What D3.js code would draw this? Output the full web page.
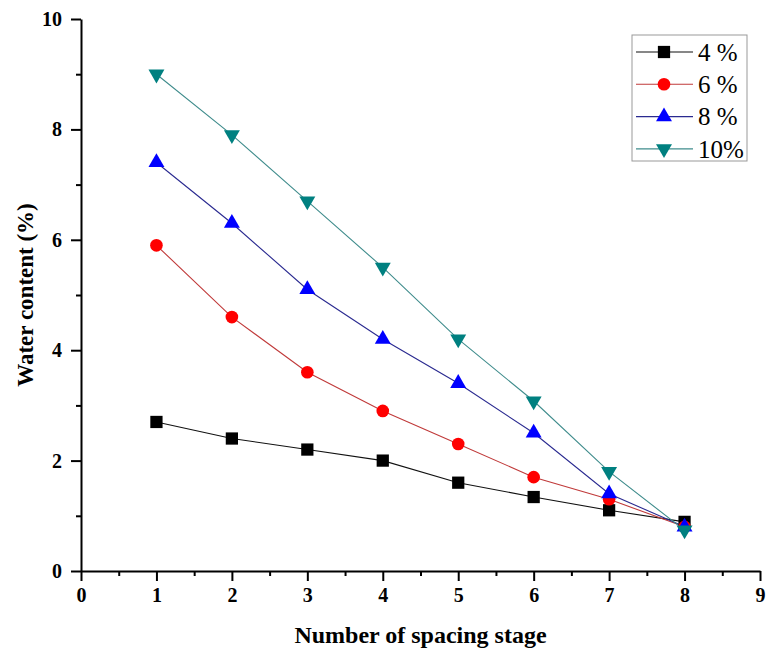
<!DOCTYPE html>
<html>
<head>
<meta charset="utf-8">
<script src="https://cdn.jsdelivr.net/npm/d3@7"></script>
<style>
  body { margin: 0; background: #fff; }
  svg { display: block; }
</style>
</head>
<body>
<div id="chart"></div>
<script>
// values
const stages = [1, 2, 3, 4, 5, 6, 7, 8]
const water4 = [2.7, 2.4, 2.2, 2.0, 1.6, 1.34, 1.1, 0.89]
const water6 = [5.9, 4.6, 3.6, 2.9, 2.3, 1.7, 1.3, 0.8]
const water8 = [7.4, 6.3, 5.1, 4.2, 3.4, 2.5, 1.4, 0.8]
const water10 = [9.0, 7.9, 6.7, 5.5, 4.2, 3.08, 1.8, 0.74]
const seriesNames = ["4 %", "6 %", "8 %", "10%"]
const xTicks = [0, 1, 2, 3, 4, 5, 6, 7, 8, 9]
const yTicks = [0, 2, 4, 6, 8, 10]

const W = 767, H = 655
const margin = {top: 19, right: 7, bottom: 84, left: 81}

const series = [
  {name: seriesNames[0], values: water4, color: "#000000", line: "#111111", symbol: d3.symbolSquare, size: 150, rot: 0},
  {name: seriesNames[1], values: water6, color: "#ff0000", line: "#c03a3a", symbol: d3.symbolCircle, size: 125, rot: 0},
  {name: seriesNames[2], values: water8, color: "#0000ff", line: "#2a2a90", symbol: d3.symbolTriangle, size: 110, rot: 0},
  {name: seriesNames[3], values: water10, color: "#008080", line: "#3f8c8c", symbol: d3.symbolTriangle, size: 110, rot: 180},
]

const svg = d3.select("#chart").append("svg")
  .attr("width", W)
  .attr("height", H)

const x = d3.scaleLinear()
  .domain([0, 9])
  .range([margin.left, W - margin.right])

const y = d3.scaleLinear()
  .domain([0, 10])
  .range([H - margin.bottom, margin.top])

const font = "'Liberation Serif', 'Times New Roman', serif"

// minor ticks first, then the major axes on top
svg.append("g")
  .attr("transform", `translate(0,${y(0)})`)
  .call(d3.axisBottom(x).tickValues(d3.range(0.5, 9, 1)).tickSize(5).tickFormat(""))
  .call(g => g.select(".domain").remove())
  .call(g => g.selectAll("line").attr("stroke-width", 2))

svg.append("g")
  .attr("transform", `translate(${x(0)},0)`)
  .call(d3.axisLeft(y).tickValues([1, 3, 5, 7, 9]).tickSize(5).tickFormat(""))
  .call(g => g.select(".domain").remove())
  .call(g => g.selectAll("line").attr("stroke-width", 2))

const xAxis = svg.append("g")
  .attr("transform", `translate(0,${y(0)})`)
  .call(d3.axisBottom(x).tickValues(xTicks).tickSize(10).tickPadding(7).tickSizeOuter(0))
xAxis.select(".domain").attr("stroke-width", 2)
xAxis.selectAll("line").attr("stroke-width", 2)
xAxis.selectAll("text")
  .attr("font-family", font)
  .attr("font-weight", "bold")
  .attr("font-size", 20)
  .attr("fill", "#000")

const yAxis = svg.append("g")
  .attr("transform", `translate(${x(0)},0)`)
  .call(d3.axisLeft(y).tickValues(yTicks).tickSize(10).tickPadding(9).tickSizeOuter(0))
yAxis.select(".domain").attr("stroke-width", 2)
yAxis.selectAll("line").attr("stroke-width", 2)
yAxis.selectAll("text")
  .attr("font-family", font)
  .attr("font-weight", "bold")
  .attr("font-size", 20)
  .attr("fill", "#000")

// axis titles
svg.append("text")
  .attr("x", (x(0) + x(9)) / 2)
  .attr("y", 643)
  .attr("text-anchor", "middle")
  .attr("font-family", font)
  .attr("font-weight", "bold")
  .attr("font-size", 24)
  .text("Number of spacing stage")

svg.append("text")
  .attr("transform", `translate(33,${y(5)}) rotate(-90)`)
  .attr("text-anchor", "middle")
  .attr("font-family", font)
  .attr("font-weight", "bold")
  .attr("font-size", 23)
  .text("Water content (%)")

// lines and markers
const line = d3.line()
  .x((d, i) => x(stages[i]))
  .y(d => y(d))

const plot = svg.append("g")

for (const s of series) {
  plot.append("path")
    .datum(s.values)
    .attr("fill", "none")
    .attr("stroke", s.line)
    .attr("stroke-width", 1.1)
    .attr("d", line)
}

for (const s of series) {
  plot.append("g")
    .selectAll("path")
    .data(s.values)
    .join("path")
      .attr("transform", (d, i) => `translate(${x(stages[i])},${y(d)}) rotate(${s.rot})`)
      .attr("d", d3.symbol(s.symbol, s.size))
      .attr("fill", s.color)
}

// legend
const legend = svg.append("g")
  .attr("transform", "translate(632,35)")

legend.append("rect")
  .attr("width", 115)
  .attr("height", 126)
  .attr("fill", "#fff")
  .attr("stroke", "#999")
  .attr("stroke-width", 1)

const rows = legend.selectAll("g.row")
  .data(series)
  .join("g")
    .attr("class", "row")
    .attr("transform", (d, i) => `translate(0,${17 + i * 32.3})`)

rows.append("line")
  .attr("x1", 4)
  .attr("x2", 61)
  .attr("stroke", d => d.line)
  .attr("stroke-width", 1.1)

rows.append("path")
  .attr("transform", d => `translate(32,0) rotate(${d.rot})`)
  .attr("d", d => d3.symbol(d.symbol, d.size)())
  .attr("fill", d => d.color)

rows.append("text")
  .attr("x", 66)
  .attr("dy", "0.35em")
  .attr("font-family", font)
  .attr("font-size", 25)
  .text(d => d.name)
</script>
</body>
</html>
